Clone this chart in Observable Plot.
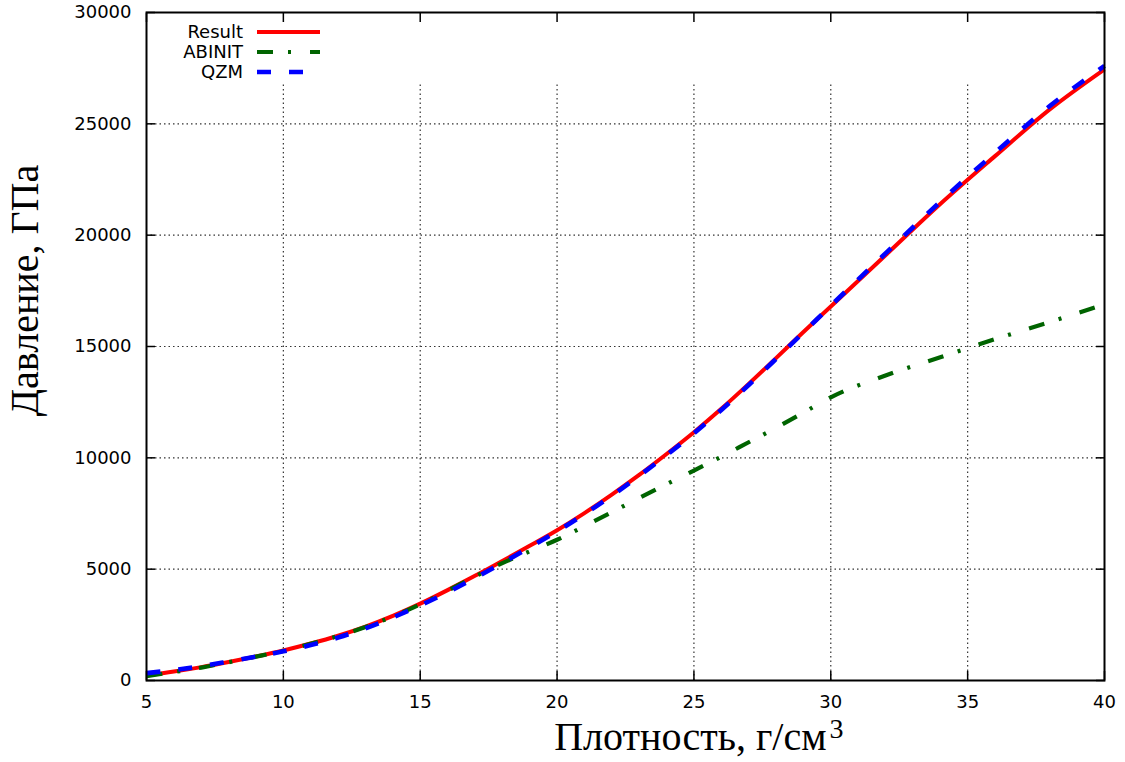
<!DOCTYPE html>
<html><head><meta charset="utf-8">
<script src="https://cdn.jsdelivr.net/npm/d3@7"></script>
<script src="https://cdn.jsdelivr.net/npm/@observablehq/plot@0.6"></script>
<style>
body{margin:0;background:#fff;}
#wrap{position:relative;width:1125px;height:762px;}
#legend{position:absolute;left:0;top:0;pointer-events:none;}
</style></head><body><div id="wrap"></div>
<script>
// ---- data ----
const density = [5,6,7,8,9,10,11,12,13,14,15,16,17,18,19,20,21,22,23,24,25,26,27,28,29,30,32,34,36,38,40];
const resultP = [230,400,600,830,1080,1350,1660,2010,2420,2900,3450,4060,4700,5370,6050,6750,7520,8350,9230,10170,11150,12200,13320,14480,15650,16800,19100,21400,23550,25650,27450];
const abinitP = [200,380,580,820,1070,1330,1650,2000,2400,2880,3420,4030,4670,5270,5800,6320,6930,7560,8200,8820,9430,10050,10700,11350,12030,12720,13700,14520,15330,16100,16900];
const qzmP    = [330,470,640,850,1070,1310,1590,1930,2340,2830,3370,3960,4600,5280,5980,6700,7470,8300,9190,10120,11100,12150,13270,14440,15630,16830,19180,21500,23700,25800,27600];
const seriesNames = ["Result","ABINIT","QZM"];
const xTicks = [5,10,15,20,25,30,35,40];
const yTicks = [0,5000,10000,15000,20000,25000,30000];
const xTitle = "Плотность, г/см";
const xTitleSup = "3";
const yTitle = "Давление, ГПа";

// ---- styles ----
const seriesStyle = {
  Result: {stroke:"#ff0000", strokeWidth:4,   dash:null},
  ABINIT: {stroke:"#006400", strokeWidth:4.2, dash:"16,15,3,19"},
  QZM:    {stroke:"#0000ff", strokeWidth:4.6, dash:"14,18"}
};
const GRID_TOP = 26800; // vertical grid lines stop below the key
const gridStyle = {stroke:"#333", strokeDasharray:"1.5,3", strokeWidth:1.2};
const serif = "'Liberation Serif', 'Times New Roman', serif";

const seriesValues = [resultP, abinitP, qzmP];
const lineMarks = seriesNames.map((name, k) => {
  const data = density.map((x, i) => ({x, y: seriesValues[k][i]}));
  const s = seriesStyle[name];
  return Plot.line(data, {x:"x", y:"y", stroke:s.stroke, strokeWidth:s.strokeWidth,
    strokeDasharray:s.dash, strokeLinecap:"butt", curve:"monotone-x"});
});

const chart = Plot.plot({
  width:1125, height:762,
  marginLeft:146, marginRight:21, marginTop:12, marginBottom:82,
  style:{fontFamily:"DejaVu Sans", fontSize:"18px", background:"white", color:"black", overflow:"visible"},
  x:{domain:[5,40], ticks:xTicks, label:null},
  y:{domain:[0,30000], ticks:yTicks, label:null},
  marks:[
    Plot.ruleY(yTicks.slice(1,-1), {y:d=>d, ...gridStyle}),
    Plot.ruleX(xTicks.slice(1,-1), {x:d=>d, y1:0, y2:GRID_TOP, ...gridStyle}),
    Plot.axisX(xTicks, {anchor:"bottom", tickSize:0, tickPadding:15, label:null, fontSize:18, tickFormat:d=>String(d)}),
    Plot.axisY(yTicks, {anchor:"left", tickSize:0, tickPadding:15, label:null, fontSize:18, tickFormat:d=>String(d)}),
    Plot.axisX(xTicks, {anchor:"bottom", tickSize:-9, text:null, label:null, strokeWidth:1.5}),
    Plot.axisX(xTicks, {anchor:"top", tickSize:-9, text:null, label:null, strokeWidth:1.5}),
    Plot.axisY(yTicks, {anchor:"left", tickSize:-9, text:null, label:null, strokeWidth:1.5}),
    Plot.axisY(yTicks, {anchor:"right", tickSize:-9, text:null, label:null, strokeWidth:1.5}),
    ...lineMarks,
    Plot.frame({stroke:"black", strokeWidth:2}),
    Plot.text([xTitle], {text:d=>d, frameAnchor:"bottom", textAnchor:"end", lineAnchor:"middle",
      dx:201, dy:57, fontFamily:serif, fontSize:40, fill:"black"}),
    Plot.text([xTitleSup], {text:d=>d, frameAnchor:"bottom", textAnchor:"start", lineAnchor:"middle",
      dx:204, dy:49, fontFamily:serif, fontSize:28, fill:"black"}),
    Plot.text([yTitle], {text:d=>d, frameAnchor:"left", rotate:-90, textAnchor:"middle", lineAnchor:"middle",
      dx:-121, dy:-56, fontFamily:serif, fontSize:40, fill:"black"})
  ]
});
const wrap = document.getElementById("wrap");
wrap.appendChild(chart);

// ---- key (top-left, inside the frame) ----
const key = d3.select(wrap).append("svg").attr("id","legend").attr("width",1125).attr("height",100);
const keyTextRight = 243, keyLineX1 = 257, keyLineX2 = 320, keyRow0 = 32, keyRowStep = 20;
seriesNames.forEach((name, i) => {
  const y = keyRow0 + i*keyRowStep;
  const s = seriesStyle[name];
  key.append("text").attr("x", keyTextRight).attr("y", y).attr("dy","0.36em")
    .attr("text-anchor","end").attr("font-family","DejaVu Sans").attr("font-size",18)
    .attr("fill","black").text(name);
  key.append("line").attr("x1", keyLineX1).attr("x2", keyLineX2).attr("y1", y).attr("y2", y)
    .attr("stroke", s.stroke).attr("stroke-width", s.strokeWidth)
    .attr("stroke-dasharray", s.dash).attr("stroke-linecap","butt");
});
</script></body></html>
